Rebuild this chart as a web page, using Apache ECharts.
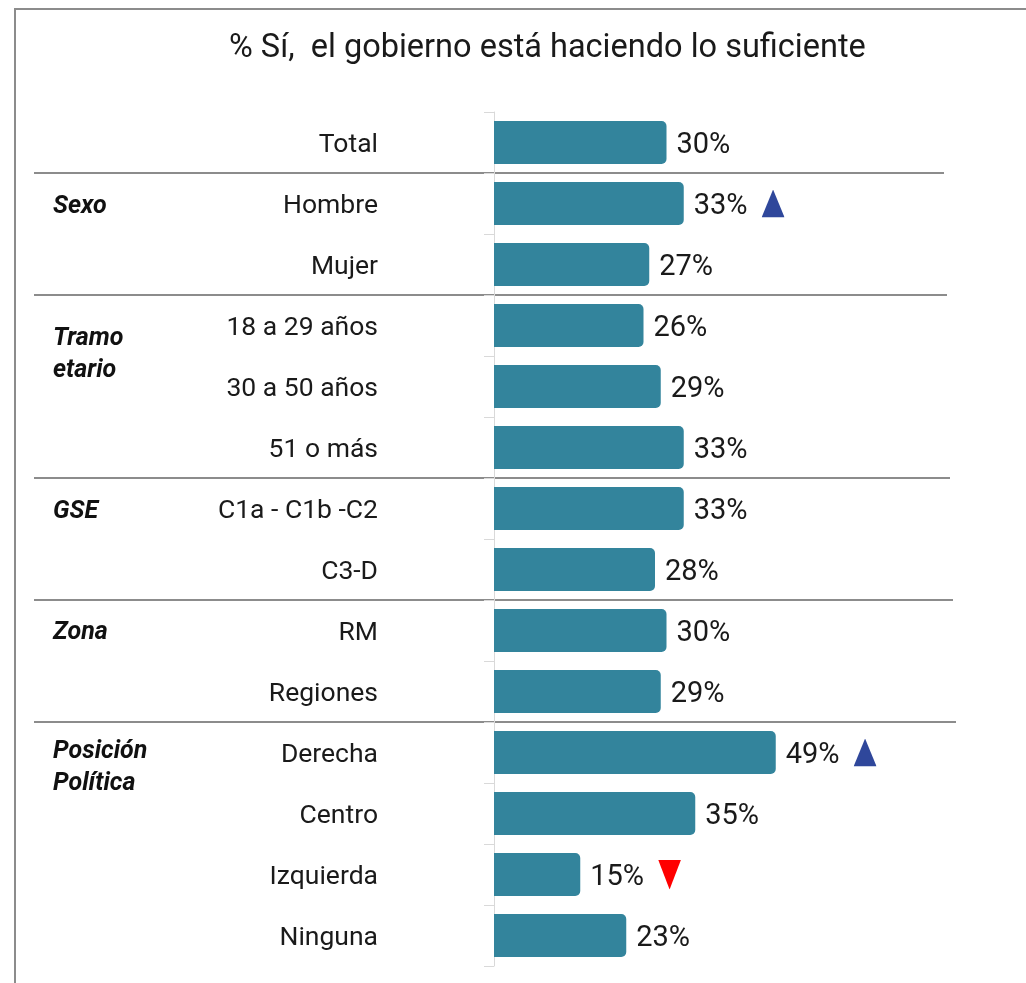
<!DOCTYPE html>
<html>
<head>
<meta charset="utf-8">
<script src="https://cdn.jsdelivr.net/npm/echarts@6/dist/echarts.min.js"></script>
<style>
html,body{margin:0;padding:0;background:#fff;}
#chart{width:1026px;height:983px;}
</style>
</head>
<body>
<div id="chart"></div>
<script>
const titleText = '% Sí,  el gobierno está haciendo lo suficiente';
const categories = ['Total','Hombre','Mujer','18 a 29 años','30 a 50 años','51 o más','C1a - C1b -C2','C3-D','RM','Regiones','Derecha','Centro','Izquierda','Ninguna'];
const values = [30,33,27,26,29,33,33,28,30,29,49,35,15,23];
const flags = ['','up','','','','','','','','','up','','down',''];
const groupNames = ['Sexo','Tramo\netario','GSE','Zona','Posición\nPolítica'];
const groupStarts = [1,3,6,8,10];

const FONT = "'Roboto',sans-serif";
const groupOffsets = [3, 29, 3, 2, 15];
const upSvg = 'data:image/svg+xml;utf8,' + encodeURIComponent('<svg xmlns="http://www.w3.org/2000/svg" width="23" height="28" viewBox="0 0 23 28"><polygon points="11.5,0 23,28 0,28" fill="#2F479B"/></svg>');
const downSvg = 'data:image/svg+xml;utf8,' + encodeURIComponent('<svg xmlns="http://www.w3.org/2000/svg" width="23" height="30" viewBox="0 0 23 30"><polygon points="0,0 23,0 11.5,30" fill="#FF0000"/></svg>');

const chart = echarts.init(document.getElementById('chart'));
const option = {
  animation: false,
  backgroundColor: '#ffffff',
  textStyle: { fontFamily: FONT },
  title: {
    text: titleText,
    left: 224, top: 27,
    textStyle: { fontFamily: FONT, fontSize: 32.5, fontWeight: 'normal', color: '#1a1a1a' }
  },
  grid: { left: 494, top: 112, height: 854, right: 187 },
  xAxis: { type: 'value', min: 0, max: 60, show: false },
  yAxis: {
    type: 'category', inverse: true, data: categories,
    axisLine: { show: true, lineStyle: { color: '#D9D9D9', width: 1 } },
    axisTick: { show: true, length: 10, lineStyle: { color: '#D9D9D9' } },
    axisLabel: {
      margin: 116,
      formatter: v => '{c|' + v + '}',
      rich: { c: { fontFamily: FONT, fontSize: 26.5, color: '#1a1a1a', padding: [6, 0, 0, 0] } }
    },
    splitLine: { show: false }
  },
  series: [{
    type: 'bar',
    data: values,
    barWidth: 43,
    itemStyle: { color: '#33849C', borderRadius: [0, 5, 5, 0] },
    label: {
      show: true, position: 'right', distance: 10,
      formatter: p => '{v|' + values[p.dataIndex] + '%}' + (flags[p.dataIndex] ? '{gap| }{' + flags[p.dataIndex] + '| }' : ''),
      rich: {
        v: { fontFamily: FONT, fontSize: 29, color: '#1a1a1a', padding: [6, 0, 0, 0] },
        gap: { width: 14, fontSize: 10 },
        up: { width: 23, height: 28, backgroundColor: { image: upSvg } },
        down: { width: 23, height: 30, backgroundColor: { image: downSvg } }
      }
    }
  }]
};
chart.setOption(option);

function rowY(i) { return chart.convertToPixel({ yAxisIndex: 0 }, categories[i]); }
const graphics = [];
// frame
graphics.push({ type: 'line', shape: { x1: 14, y1: 9, x2: 1026, y2: 9 }, style: { stroke: '#8C8C8C', lineWidth: 2 } });
graphics.push({ type: 'line', shape: { x1: 15, y1: 8, x2: 15, y2: 983 }, style: { stroke: '#8C8C8C', lineWidth: 2 } });
groupStarts.forEach((s, k) => {
  const yb = (rowY(s - 1) + rowY(s)) / 2;
  graphics.push({ type: 'line', shape: { x1: 34, y1: yb, x2: 944 + k * 3, y2: yb }, style: { stroke: '#8C8C8C', lineWidth: 2 } });
  const yc = rowY(s) + groupOffsets[k];
  graphics.push({ type: 'text', x: 53, y: yc, style: { text: groupNames[k], font: "italic bold 25px " + FONT, fill: '#111', textVerticalAlign: 'middle', lineHeight: 32 } });
});
chart.setOption({ graphic: graphics });
</script>
</body>
</html>
